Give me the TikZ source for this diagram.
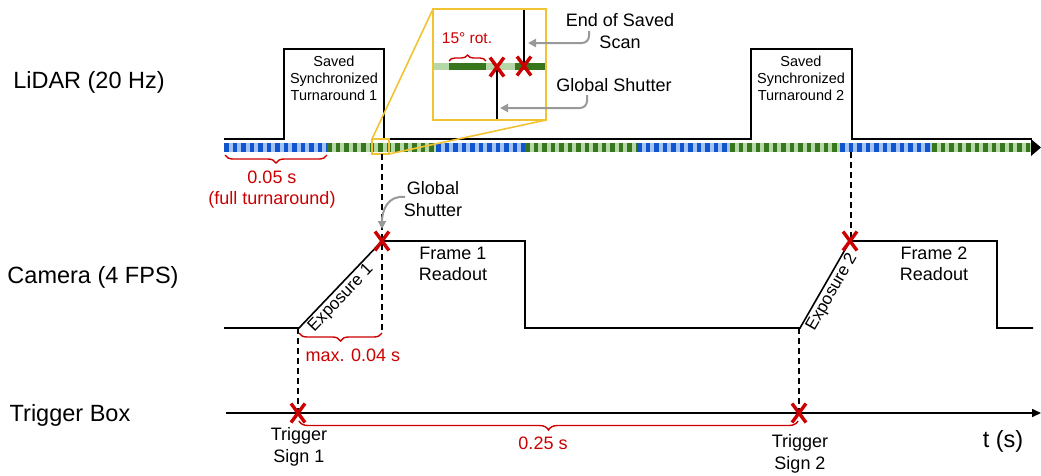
\documentclass[tikz,border=0pt]{standalone}
\usepackage{fontspec}
\setmainfont{Liberation Sans}
\usetikzlibrary{arrows.meta,decorations.pathreplacing}
\definecolor{dblue}{HTML}{1155CC}
\definecolor{lblue}{HTML}{A4C2F4}
\definecolor{dgreen}{HTML}{38761D}
\definecolor{lgreen}{HTML}{B6D7A8}
\definecolor{xred}{HTML}{CC0000}
\definecolor{zyellow}{HTML}{F1C232}
\definecolor{agray}{HTML}{999999}
\tikzset{
  sig/.style={line width=1.6pt, line join=miter},
  vdash/.style={line width=1.4pt, dash pattern=on 6pt off 4pt},
  rbrace/.style={draw=xred, line width=1.4pt, decorate, decoration={brace, amplitude=#1}},
  garrow/.style={draw=agray, line width=2pt, rounded corners=7pt, -{Triangle[length=8pt,width=8pt]}},
  lbl/.style={font=\fontsize{23.5}{28}\selectfont, anchor=base},
  txt/.style={font=\fontsize{18}{21.5}\selectfont, align=center},
  smalltxt/.style={font=\fontsize{14.5}{17}\selectfont, align=center},
  rtxt/.style={text=xred, font=\fontsize{18}{21}\selectfont, align=center},
  xmk/.pic={\draw[xred, line width=3.4pt] (-7,-9.5)--(7,9.5) (-7,9.5)--(7,-9.5);},
  zoomc/.style={draw=zyellow, line width=1.6pt},
}
\newcommand\lseg[4]{%
  \fill[#3] (#1,143) rectangle (#2,152);
  \draw[#4, line width=9pt, dash pattern=on 4.5pt off 4pt] (#1,147.5) -- (#2,147.5);}
\begin{document}
\begin{tikzpicture}[x=1pt,y=-1pt]
\useasboundingbox (0,0) rectangle (1041,475);
% row labels
\node[lbl] (lidar) at (89,88) {LiDAR (20 Hz)};
\node[lbl] (camera) at (93,283) {Camera (4 FPS)};
\node[lbl] (trigbox) at (70,421) {Trigger Box};
% lidar striped bar
\lseg{224}{327}{lblue}{dblue}
\lseg{327}{436}{lgreen}{dgreen}
\lseg{436}{525}{lblue}{dblue}
\lseg{525}{637}{lgreen}{dgreen}
\lseg{637}{730}{lblue}{dblue}
\lseg{730}{840}{lgreen}{dgreen}
\lseg{840}{932}{lblue}{dblue}
\lseg{932}{1032}{lgreen}{dgreen}
\fill (1031,139) -- (1041,147.5) -- (1031,156) -- cycle;
% lidar signal
\coordinate (l0) at (224,139);
\coordinate (l1) at (284,139);
\coordinate (l2) at (284,49);
\coordinate (l3) at (384,49);
\coordinate (l4) at (384,139);
\coordinate (l5) at (751,139);
\coordinate (l6) at (751,49);
\coordinate (l7) at (852,49);
\coordinate (l8) at (852,139);
\coordinate (l9) at (1032,139);
\draw[sig] (l0) -- (l1) -- (l2) -- (l3) -- (l4) -- (l5) -- (l6) -- (l7) -- (l8) -- (l9);
\node[smalltxt] (sst1) at (334,78) {Saved\\Synchronized\\Turnaround 1};
\node[smalltxt] (sst2) at (801,78) {Saved\\Synchronized\\Turnaround 2};
% 0.05 s brace
\coordinate (b1a) at (327,155);
\coordinate (b1b) at (225,155);
\draw[rbrace=8pt] (b1a) -- (b1b);
\node[rtxt] (t005) at (272,190) {0.05 s\\(full turnaround)};
% zoom inset
\coordinate (zs1) at (372,139);
\coordinate (zs2) at (389,154);
\coordinate (zb1) at (433,9);
\coordinate (zb2) at (546,120);
\draw[zoomc] (zs1) rectangle (zs2);
\draw[zoomc] (zb1) rectangle (zb2);
\draw[zoomc] (zs1) -- (zb1);
\draw[zoomc] (zs2) -- (zb2);
\fill[lgreen] (434,63) rectangle (545,70);
\fill[dgreen] (449,63) rectangle (486,70);
\fill[dgreen] (515,63) rectangle (545,70);
\coordinate (ie1) at (524,10);
\coordinate (ie2) at (524,66);
\coordinate (ig1) at (497,66);
\coordinate (ig2) at (497,119);
\draw[line width=1.3pt] (ie1) -- (ie2);
\draw[line width=1.3pt] (ig1) -- (ig2);
\pic at (497,67) {xmk};
\pic at (524,66) {xmk};
\coordinate (br1) at (449,61);
\coordinate (br2) at (486,61);
\draw[rbrace=6pt] (br1) -- (br2);
\node[rtxt, font=\fontsize{15.5}{18}\selectfont, anchor=base] (rot) at (467,43) {15° rot.};
\node[txt] (eoss) at (620,31) {End of Saved\\Scan};
\node[txt, anchor=base] (gsi) at (614,91) {Global Shutter};
\coordinate (ga1) at (589,31);
\coordinate (ga2) at (528,43);
\coordinate (gb1) at (587,95);
\coordinate (gb2) at (500,108);
\draw[garrow] (ga1) |- (ga2);
\draw[garrow] (gb1) |- (gb2);
% dashed guides
\draw[vdash] (382,154) -- (382,333);
\draw[vdash] (851,152) -- (851,241);
\draw[vdash] (298,328) -- (298,413);
\draw[vdash] (799,328) -- (799,413);
% camera signal
\coordinate (c0) at (224,328);
\coordinate (c1) at (299,328);
\coordinate (c2) at (382,241);
\coordinate (c3) at (525,241);
\coordinate (c4) at (525,328);
\coordinate (c5) at (800,328);
\coordinate (c6) at (850,241);
\coordinate (c7) at (997,241);
\coordinate (c8) at (997,328);
\coordinate (c9) at (1033,328);
\draw[sig] (c0) -- (c1)
  -- node[pos=0.42, sloped, below, inner sep=1.5pt, font=\fontsize{17}{20}\selectfont] (exp1) {Exposure 1} (c2)
  -- (c3) -- (c4) -- (c5)
  -- node[pos=0.47, sloped, below, inner sep=1.5pt, font=\fontsize{17}{20}\selectfont] (exp2) {Exposure 2} (c6)
  -- (c7) -- (c8) -- (c9);
\node[txt] (f1) at (453,264) {Frame 1\\Readout};
\node[txt] (f2) at (934,264) {Frame 2\\Readout};
\node[txt] (gsc) at (433,199) {Global\\Shutter};
\coordinate (gc1) at (405,197);
\coordinate (gc2) at (382,229);
\draw[garrow] (gc1) .. controls (388,195) and (382,210) .. (gc2);
\pic at (382,241) {xmk};
\pic at (850,241) {xmk};
% max brace
\coordinate (mb1) at (382,333);
\coordinate (mb2) at (299,333);
\draw[rbrace=8pt] (mb1) -- (mb2);
\node[rtxt, anchor=base west] (tmax) at (302,361) {max. 0.04 s};
% trigger line
\coordinate (t0) at (226,413);
\coordinate (t1) at (1041,413);
\draw[sig, -{Triangle[length=9pt,width=8pt]}] (t0) -- (t1);
\pic at (298,413) {xmk};
\pic at (799,413) {xmk};
\coordinate (tb1) at (798,421);
\coordinate (tb2) at (299,421);
\draw[rbrace=9pt] (tb1) -- (tb2);
\node[rtxt, anchor=base] (t025) at (543,449) {0.25 s};
\node[txt] (ts1) at (299,447) {Trigger\\Sign 1};
\node[txt] (ts2) at (800,454) {Trigger\\Sign 2};
\node[font=\fontsize{23.5}{28}\selectfont] (tsec) at (1003,441) {t (s)};
\end{tikzpicture}
\end{document}
